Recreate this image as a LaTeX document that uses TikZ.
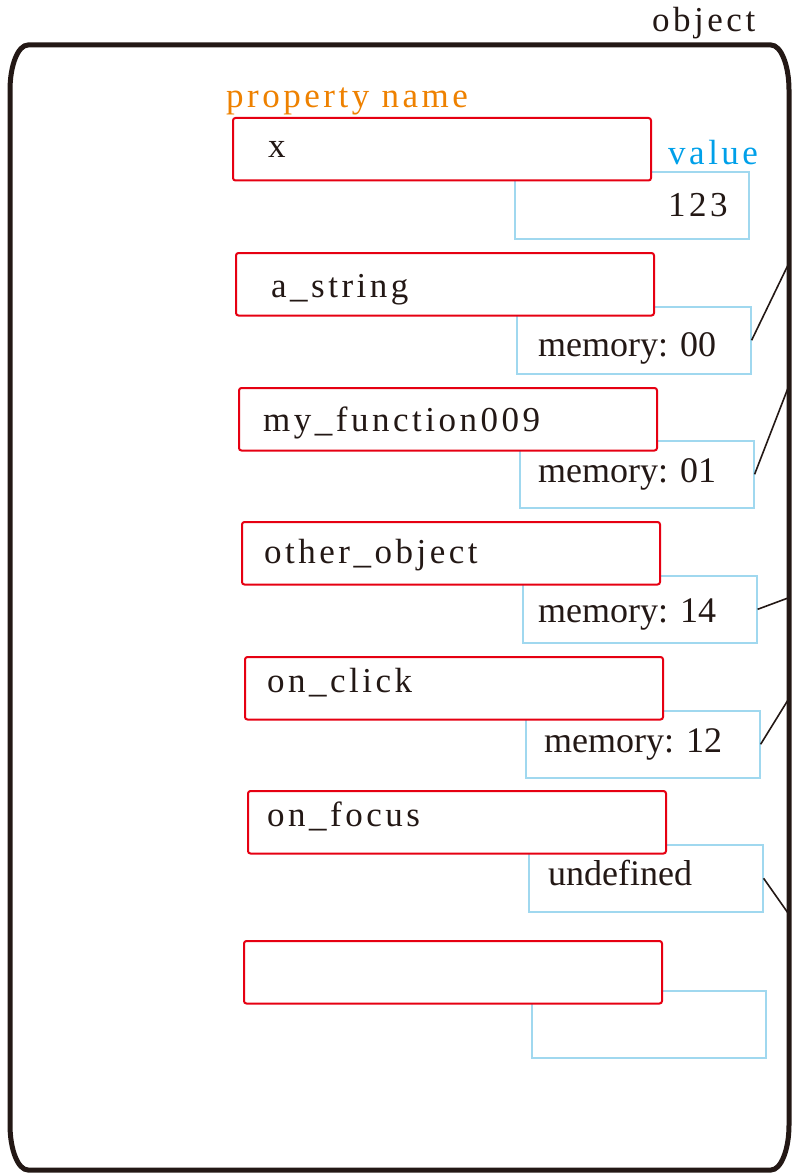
\documentclass[tikz,border=0pt]{standalone}
\usepackage{fontspec}
\setmainfont{Liberation Serif}
\newfontfamily\trk[LetterSpace=10]{Liberation Serif}
\definecolor{ink}{HTML}{231815}
\definecolor{redc}{HTML}{E60012}
\definecolor{bluec}{HTML}{A0D8EF}
\definecolor{valc}{HTML}{00A0E9}
\definecolor{orangec}{HTML}{EE8100}
\begin{document}
\begin{tikzpicture}[x=1pt,y=-1pt,
  namebox/.style={draw=redc, line width=2pt, rounded corners=2.5pt, fill=white, anchor=north west,
    minimum width=418pt, minimum height=62.5pt, inner sep=0pt},
  valbox/.style={draw=bluec, line width=1.6pt, anchor=north west,
    minimum width=234pt, minimum height=67pt, inner sep=0pt},
  nametxt/.style={anchor=base west, inner sep=0pt, font=\trk\fontsize{35}{40}\selectfont, text=ink},
  memtxt/.style={anchor=base west, inner sep=0pt, font=\fontsize{36}{40}\selectfont, text=ink},
  conn/.style={draw=ink, line width=1.6pt},
  frame/.style={draw=ink, line width=5pt}]
\useasboundingbox (0,0) rectangle (792,1174);

% object frame
\draw[frame] (28,45) -- (771,45) .. controls (780.9,45) and (789,65.2) .. (789,90)
  -- (789,1125) .. controls (789,1149.8) and (780.9,1170) .. (771,1170)
  -- (28,1170) .. controls (18.1,1170) and (10,1149.8) .. (10,1125)
  -- (10,90) .. controls (10,65.2) and (18.1,45) .. (28,45) -- cycle;
\node[nametxt] (lobj) at (652,32) {object};

% value boxes
\node[valbox] (v1) at (514,171) {};
\node[valbox] (v2) at (516,306) {};
\node[valbox] (v3) at (519,440) {};
\node[valbox] (v4) at (522,575) {};
\node[valbox] (v5) at (525,710) {};
\node[valbox] (v6) at (528,844) {};
\node[valbox] (v7) at (531,990) {};

% property name boxes
\node[namebox] (n1) at (232,117) {};
\node[namebox] (n2) at (235,252) {};
\node[namebox] (n3) at (238,387) {};
\node[namebox] (n4) at (241,521) {};
\node[namebox] (n5) at (244,656) {};
\node[namebox] (n6) at (247,790) {};
\node[namebox] (n7) at (243,940) {};

% labels
\node[nametxt, text=orangec] (lprop) at (226,108) {property name};
\node[nametxt, text=valc] (lval) at (668,165) {value};

% names
\node[nametxt] (t1) at (268,158) {x};
\node[nametxt] (t2) at (271,297) {a\_string};
\node[nametxt] (t3) at (263,431) {my\_function009};
\node[nametxt] (t4) at (264,563) {other\_object};
\node[nametxt] (t5) at (267,692) {on\_click};
\node[nametxt] (t6) at (267,826) {on\_focus};

% values
\node[nametxt] (w1) at (668,217) {123};
\node[memtxt] (w2) at (538,356) {memory: 00};
\node[memtxt] (w3) at (538,482) {memory: 01};
\node[memtxt] (w4) at (538,622) {memory: 14};
\node[memtxt] (w5) at (544,752) {memory: 12};
\node[memtxt] (w6) at (548,885) {undefined};

% connectors
\coordinate (e2) at (788,265);
\coordinate (e3) at (788,388);
\coordinate (e4) at (788,598);
\coordinate (e5) at (788,700);
\coordinate (e6) at (788,913);
\draw[conn] (v2.east) -- (e2);
\draw[conn] (v3.east) -- (e3);
\draw[conn] (v4.east) -- (e4);
\draw[conn] (v5.east) -- (e5);
\draw[conn] (v6.east) -- (e6);
\end{tikzpicture}
\end{document}
